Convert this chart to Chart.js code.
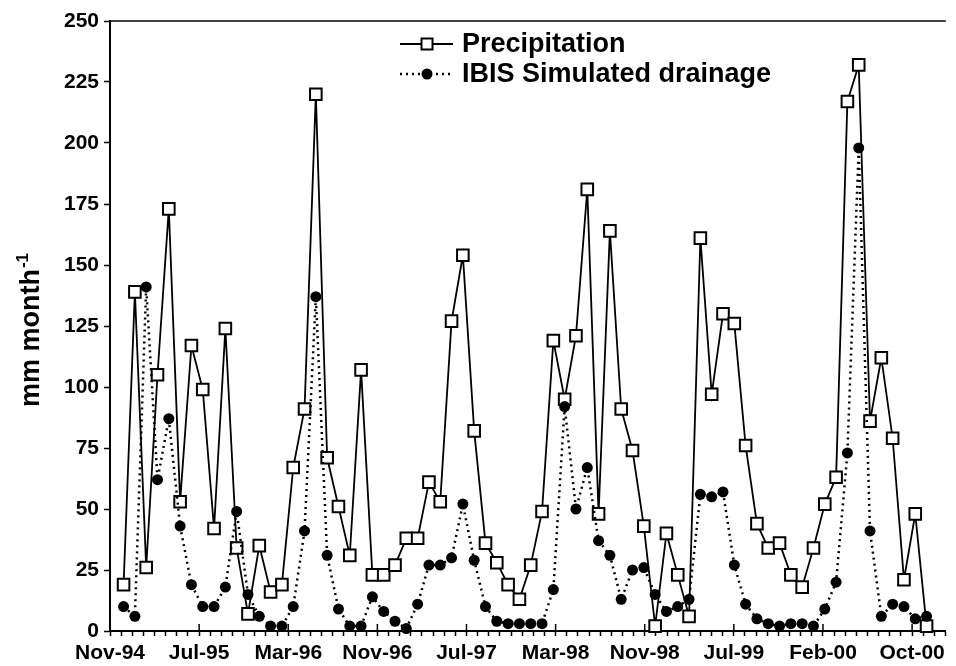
<!DOCTYPE html>
<html>
<head>
<meta charset="utf-8">
<script src="https://cdn.jsdelivr.net/npm/chart.js@4.4.1/dist/chart.umd.min.js"></script>
<style>
  html, body { margin: 0; padding: 0; background: #fff; }
  #wrap { position: relative; width: 956px; height: 666px; }
</style>
</head>
<body>
<div id="wrap"><canvas id="chart" width="956" height="666"></canvas></div>
<script>
// tick labels, one every 8 month ticks
const tickLabels = ['Nov-94', 'Jul-95', 'Mar-96', 'Nov-96', 'Jul-97', 'Mar-98', 'Nov-98', 'Jul-99', 'Feb-00', 'Oct-00'];

// monthly values, mm month-1
const precipitation = [
  19, 139, 26, 105, 173, 53, 117, 99, 42, 124, 34, 7,
  35, 16, 19, 67, 91, 220, 71, 51, 31, 107, 23, 23,
  27, 38, 38, 61, 53, 127, 154, 82, 36, 28, 19, 13,
  27, 49, 119, 95, 121, 181, 48, 164, 91, 74, 43, 2,
  40, 23, 6, 161, 97, 130, 126, 76, 44, 34, 36, 23,
  18, 34, 52, 63, 217, 232, 86, 112, 79, 21, 48, 2
];
const drainage = [
  10, 6, 141, 62, 87, 43, 19, 10, 10, 18, 49, 15,
  6, 2, 2, 10, 41, 137, 31, 9, 2, 2, 14, 8,
  4, 1, 11, 27, 27, 30, 52, 29, 10, 4, 3, 3,
  3, 3, 17, 92, 50, 67, 37, 31, 13, 25, 26, 15,
  8, 10, 13, 56, 55, 57, 27, 11, 5, 3, 2, 3,
  3, 2, 9, 20, 73, 198, 41, 6, 11, 10, 5, 6
];

// x axis ticks (in point-index units): month ticks are a bit tighter than the points
const firstTick = -1.2;
const monthStep = 0.985;
const tickCount = 76;

const FONT = '"Liberation Sans", Arial, sans-serif';

const extras = {
  id: 'extras',
  afterDraw(chart) {
    const ctx = chart.ctx;
    const area = chart.chartArea;
    const xs = chart.scales.x;
    ctx.save();
    ctx.strokeStyle = '#000';
    ctx.fillStyle = '#000';

    // top frame line
    ctx.lineWidth = 1.5;
    ctx.beginPath();
    ctx.moveTo(area.left, area.top);
    ctx.lineTo(area.right, area.top);
    ctx.stroke();

    // major ticks cross the axis
    for (let k = 0; k < tickLabels.length; k++) {
      const px = xs.getPixelForValue(firstTick + k * 8 * monthStep);
      ctx.beginPath();
      ctx.moveTo(px, area.bottom - 7);
      ctx.lineTo(px, area.bottom);
      ctx.stroke();
    }

    // y title with superscript
    ctx.save();
    ctx.translate(32, 330);
    ctx.rotate(-Math.PI / 2);
    ctx.textBaseline = 'middle';
    ctx.font = 'bold 27px ' + FONT;
    const main = 'mm month';
    const w1 = ctx.measureText(main).width;
    ctx.font = 'bold 17px ' + FONT;
    const w2 = ctx.measureText('-1').width;
    const start = -(w1 + w2 + 1) / 2;
    ctx.font = 'bold 27px ' + FONT;
    ctx.fillText(main, start, 0);
    ctx.font = 'bold 17px ' + FONT;
    ctx.fillText('-1', start + w1 + 1, -9);
    ctx.restore();

    // legend
    ctx.font = 'bold 27px ' + FONT;
    ctx.textBaseline = 'middle';
    ctx.textAlign = 'left';
    // precipitation
    ctx.lineWidth = 1.8;
    ctx.setLineDash([]);
    ctx.beginPath();
    ctx.moveTo(400, 44);
    ctx.lineTo(453, 44);
    ctx.stroke();
    ctx.fillStyle = '#fff';
    ctx.lineWidth = 2;
    ctx.fillRect(421.5, 38.5, 11, 11);
    ctx.strokeRect(421.5, 38.5, 11, 11);
    ctx.fillStyle = '#000';
    ctx.fillText('Precipitation', 462, 45);
    // drainage
    ctx.lineWidth = 2.5;
    ctx.setLineDash([2, 4]);
    ctx.beginPath();
    ctx.moveTo(400, 74);
    ctx.lineTo(453, 74);
    ctx.stroke();
    ctx.setLineDash([]);
    ctx.beginPath();
    ctx.arc(427, 74, 5.5, 0, Math.PI * 2);
    ctx.fill();
    ctx.fillText('IBIS Simulated drainage', 462, 75);

    ctx.restore();
  }
};

new Chart(document.getElementById('chart').getContext('2d'), {
  type: 'line',
  data: {
    datasets: [
      {
        label: 'Precipitation',
        data: precipitation.map((v, i) => ({ x: i, y: v })),
        borderColor: '#000',
        borderWidth: 1.8,
        pointStyle: 'rect',
        pointRadius: 8.2,
        pointBackgroundColor: '#fff',
        pointBorderColor: '#000',
        pointBorderWidth: 2,
        tension: 0,
        clip: false,
        order: 2
      },
      {
        label: 'IBIS Simulated drainage',
        data: drainage.map((v, i) => ({ x: i, y: v })),
        borderColor: '#000',
        borderWidth: 2.5,
        borderDash: [2, 4],
        pointStyle: 'circle',
        pointRadius: 5.5,
        pointBackgroundColor: '#000',
        pointBorderColor: '#000',
        pointBorderWidth: 0,
        tension: 0,
        clip: false,
        order: 1
      }
    ]
  },
  options: {
    responsive: false,
    animation: false,
    devicePixelRatio: 1,
    layout: { padding: { left: 0, top: 21, right: 8, bottom: 0 } },
    plugins: { legend: { display: false }, tooltip: { enabled: false } },
    scales: {
      x: {
        type: 'linear',
        min: -1.2,
        max: 72.7,
        afterBuildTicks: s => {
          s.ticks = Array.from({ length: tickCount }, (_, j) => ({ value: firstTick + j * monthStep }));
        },
        afterFit: s => { s.height = 35; },
        ticks: {
          autoSkip: false,
          maxRotation: 0,
          minRotation: 0,
          padding: 5,
          color: '#000',
          font: { family: FONT, size: 21, weight: 'bold' },
          callback: (v, i) => (i % 8 === 0 ? tickLabels[i / 8] : '')
        },
        grid: { drawOnChartArea: false, drawTicks: true, tickLength: 5, tickColor: '#000', tickWidth: 1.5 },
        border: { display: true, color: '#000', width: 2 }
      },
      y: {
        min: 0,
        max: 250,
        afterFit: s => { s.width = 110; },
        ticks: {
          stepSize: 25,
          padding: 5,
          color: '#000',
          font: { family: FONT, size: 21, weight: 'bold' }
        },
        grid: { drawOnChartArea: false, drawTicks: true, tickLength: 6, tickColor: '#000', tickWidth: 1.5 },
        border: { display: true, color: '#000', width: 2 }
      }
    }
  },
  plugins: [extras]
});
</script>
</body>
</html>
